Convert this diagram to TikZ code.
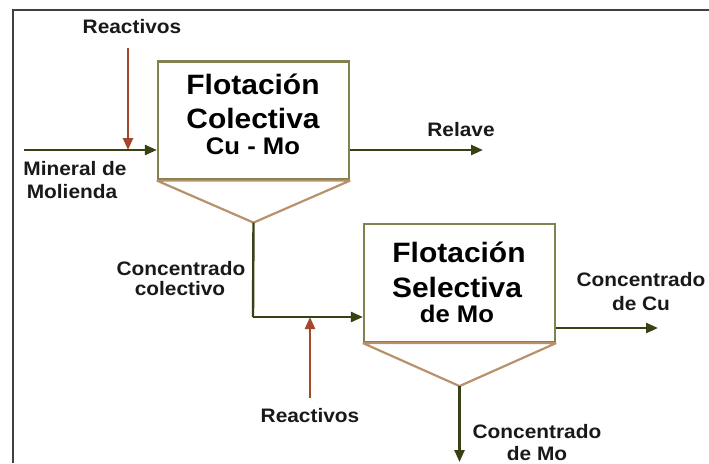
\documentclass[tikz,border=0pt]{standalone}
\usepackage{fontspec}
\setmainfont{Liberation Sans}[FakeStretch=1.07]
\usetikzlibrary{arrows.meta,calc}
\definecolor{frameC}{RGB}{64,64,64}
\definecolor{boxC}{RGB}{130,130,80}
\definecolor{funC}{RGB}{185,145,105}
\definecolor{flowC}{RGB}{55,65,20}
\definecolor{reaC}{RGB}{165,70,45}
\tikzset{
  boxnode/.style={draw=boxC, line width=2.2pt, minimum width=191pt, minimum height=118pt, inner sep=0pt, fill=white},
  funline/.style={draw=funC, line width=2.2pt, line join=bevel},
  flow/.style={draw=flowC, line width=2.4pt, -{Triangle[length=12pt,width=10pt]}},
  plain/.style={draw=flowC, line width=2.4pt},
  rea/.style={draw=reaC, line width=2.4pt, -{Triangle[length=12pt,width=10pt]}},
  title/.style={font=\bfseries\fontsize{28}{30}\selectfont, anchor=base, inner sep=0pt},
  subtitle/.style={font=\bfseries\fontsize{24}{26}\selectfont, anchor=base, inner sep=0pt},
  lbl/.style={font=\bfseries\fontsize{19.5}{21}\selectfont, anchor=base, inner sep=0pt, text=black!90}
}
\begin{document}
\begin{tikzpicture}[x=1pt,y=-1pt]
\useasboundingbox (0,0) rectangle (709,463);
% frame
\draw[frameC, line width=2.8pt] (13,463) -- (13,10) -- (709,10);
% boxes
\node[boxnode] (b1) at (253.5,120.5) {};
\node[boxnode] (b2) at (459.5,283) {};
\coordinate (a1) at ($(b1.south)+(0,42)$);
\coordinate (a2) at ($(b2.south)+(0,43)$);
\draw[funline] (b1.south west) -- (a1) -- (b1.south east) -- cycle;
\draw[funline] (b2.south west) -- (a2) -- (b2.south east) -- cycle;
% box texts
\node[title] (t11) at (253,94) {Flotación};
\node[title] (t12) at (253,128) {Colectiva};
\node[subtitle] (t13) at (253,154) {Cu - Mo};
\node[title] (t21) at (459,262) {Flotación};
\node[title] (t22) at (457,297) {Selectiva};
\node[subtitle] (t23) at (457,322) {de Mo};
% coordinates
\coordinate (min) at (24,150);
\coordinate (r1s) at (128,48);
\coordinate (rel) at (483,150);
\coordinate (cc) at (253,317);
\coordinate (r2s) at (310,398);
\coordinate (cu) at (658,328);
\coordinate (mo) at (459.5,462);
% connectors
\draw[flow] (min) -- (min -| b1.west);
\draw[rea] (r1s) -- (r1s |- min);
\draw[flow] (b1.east |- min) -- (rel);
\draw[plain] (a1) -- (cc);
\draw[flow] (cc) -- (cc -| b2.west);
\draw[rea] (r2s) -- (r2s |- cc);
\draw[flow] (b2.east |- cu) -- (cu);
\draw[flow] (a2) -- (mo);
% labels
\node[lbl] (lr1) at (132,33) {Reactivos};
\node[lbl] (lm1) at (75,175) {Mineral de};
\node[lbl] (lm2) at (72,198) {Molienda};
\node[lbl] (lrel) at (461,136) {Relave};
\node[lbl] (lc1) at (181,275) {Concentrado};
\node[lbl] (lc2) at (180,295) {colectivo};
\node[lbl] (lr2) at (310,422) {Reactivos};
\node[lbl] (lcu1) at (641,286) {Concentrado};
\node[lbl] (lcu2) at (641,310) {de Cu};
\node[lbl] (lmo1) at (537,438) {Concentrado};
\node[lbl] (lmo2) at (537,460) {de Mo};
\end{tikzpicture}
\end{document}
